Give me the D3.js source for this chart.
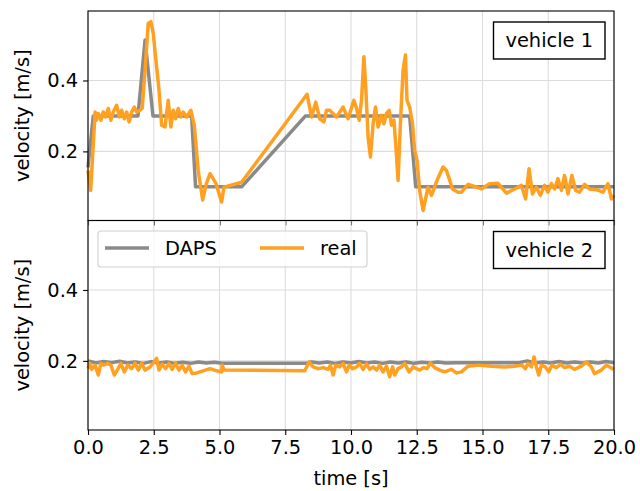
<!DOCTYPE html>
<html>
<head>
<meta charset="utf-8">
<script src="https://cdn.jsdelivr.net/npm/d3@7"></script>
<style>
    body { margin: 0; background: #fff; }
    svg { display: block; font-family: 'DejaVu Sans', sans-serif; }
</style>
</head>
<body>
<svg width="640" height="491"></svg>
<script>
// time ticks and velocity ticks
const timeTicks = [0, 2.5, 5, 7.5, 10, 12.5, 15, 17.5, 20]
const velTicks = [0.2, 0.4]
const seriesNames = ['DAPS', 'real']
const panelLabels = ['vehicle 1', 'vehicle 2']

// vehicle 1, [time, velocity]
const v1Daps = [
    [0, 0.155], [0.2, 0.3], [1.9, 0.3], [2.17, 0.514], [2.47, 0.3], [3.94, 0.3],
    [4.09, 0.1], [5.84, 0.1], [8.27, 0.3], [12.23, 0.3], [12.46, 0.1], [20, 0.1]
]

const v1Real = [
    [0, 0.146], [0.1, 0.09], [0.16, 0.166], [0.27, 0.311], [0.32, 0.288], [0.39, 0.307],
    [0.49, 0.288], [0.58, 0.311], [0.67, 0.297], [0.77, 0.321], [0.87, 0.288], [0.96, 0.311],
    [1.09, 0.33], [1.19, 0.297], [1.28, 0.316], [1.38, 0.292], [1.47, 0.311], [1.56, 0.283],
    [1.66, 0.311], [1.76, 0.325], [1.85, 0.311], [1.98, 0.316], [2.06, 0.321], [2.17, 0.429],
    [2.29, 0.561], [2.39, 0.566], [2.48, 0.533], [2.61, 0.438], [2.7, 0.373], [2.8, 0.274],
    [2.93, 0.269], [3.05, 0.344], [3.15, 0.269], [3.24, 0.316], [3.33, 0.292], [3.43, 0.321],
    [3.53, 0.297], [3.62, 0.311], [3.75, 0.297], [3.91, 0.316], [4.04, 0.274], [4.19, 0.146],
    [4.36, 0.063], [4.5, 0.109], [4.64, 0.137], [4.87, 0.109], [5.08, 0.057], [5.17, 0.099],
    [5.84, 0.113], [8.33, 0.361], [8.5, 0.297], [8.66, 0.339], [8.81, 0.292], [8.97, 0.283],
    [9.07, 0.316], [9.19, 0.316], [9.45, 0.297], [9.7, 0.325], [9.89, 0.292], [10.11, 0.344],
    [10.21, 0.321], [10.31, 0.288], [10.4, 0.344], [10.49, 0.467], [10.56, 0.382], [10.65, 0.24],
    [10.74, 0.184], [10.84, 0.278], [10.93, 0.325], [11.03, 0.269], [11.16, 0.302], [11.25, 0.278],
    [11.35, 0.307], [11.45, 0.316], [11.54, 0.274], [11.63, 0.288], [11.7, 0.222], [11.79, 0.118],
    [11.89, 0.297], [11.98, 0.429], [12.07, 0.472], [12.13, 0.344], [12.23, 0.325], [12.34, 0.278],
    [12.42, 0.203], [12.51, 0.175], [12.61, 0.09], [12.74, 0.033], [12.93, 0.099], [13.06, 0.076],
    [13.27, 0.118], [13.5, 0.156], [13.63, 0.146], [13.86, 0.094], [14.07, 0.085], [14.2, 0.085],
    [14.45, 0.107], [14.7, 0.101], [14.96, 0.094], [15.27, 0.109], [15.59, 0.11], [15.91, 0.082],
    [16.22, 0.094], [16.48, 0.104], [16.64, 0.066], [16.77, 0.151], [16.9, 0.08], [17.05, 0.099],
    [17.2, 0.076], [17.36, 0.104], [17.49, 0.085], [17.62, 0.109], [17.74, 0.094], [17.87, 0.123],
    [18, 0.09], [18.12, 0.132], [18.25, 0.08], [18.4, 0.132], [18.54, 0.09], [18.69, 0.085],
    [18.88, 0.107], [19.07, 0.094], [19.33, 0.092], [19.58, 0.085], [19.77, 0.109], [19.9, 0.066],
    [20, 0.076]
]

// vehicle 2, [time, velocity]
const v2Daps = [
    [0, 0.2], [0.3, 0.194], [0.6, 0.198], [0.9, 0.195], [1.2, 0.199], [1.5, 0.194],
    [1.8, 0.197], [2.1, 0.193], [2.4, 0.198], [2.7, 0.194], [3.0, 0.197], [3.3, 0.193],
    [3.6, 0.196], [3.9, 0.193], [4.2, 0.197], [4.5, 0.194], [4.8, 0.196], [5.1, 0.193],
    [8.3, 0.193], [8.5, 0.197], [8.8, 0.194], [9.1, 0.197], [9.4, 0.193], [9.7, 0.197],
    [10.0, 0.194], [10.3, 0.198], [10.6, 0.194], [10.9, 0.197], [11.2, 0.193], [11.5, 0.197],
    [11.8, 0.194], [12.1, 0.197], [12.4, 0.193], [12.7, 0.196], [13.0, 0.194], [13.3, 0.197],
    [13.6, 0.194], [14.0, 0.195], [16.4, 0.195], [16.7, 0.2], [17.0, 0.194], [17.3, 0.197],
    [17.6, 0.194], [17.9, 0.198], [18.2, 0.194], [18.5, 0.197], [18.8, 0.194], [19.1, 0.197],
    [19.4, 0.194], [19.7, 0.198], [20, 0.195]
]

const v2Real = [
    [0, 0.178], [0.08, 0.193], [0.14, 0.176], [0.27, 0.188], [0.39, 0.16], [0.49, 0.193],
    [0.58, 0.188], [0.75, 0.193], [0.87, 0.188], [1.0, 0.16], [1.13, 0.176], [1.25, 0.193],
    [1.38, 0.169], [1.51, 0.188], [1.66, 0.178], [1.79, 0.194], [1.91, 0.174], [2.04, 0.193],
    [2.17, 0.174], [2.36, 0.183], [2.48, 0.194], [2.61, 0.207], [2.7, 0.174], [2.82, 0.191],
    [2.95, 0.178], [3.08, 0.193], [3.2, 0.176], [3.33, 0.193], [3.46, 0.174], [3.58, 0.188],
    [3.71, 0.169], [3.84, 0.185], [3.96, 0.164], [4.13, 0.166], [4.38, 0.172], [4.64, 0.178],
    [4.89, 0.172], [5.08, 0.169], [5.1, 0.188], [5.18, 0.174], [8.24, 0.172], [8.41, 0.197],
    [8.56, 0.183], [8.75, 0.178], [8.94, 0.181], [9.13, 0.176], [9.22, 0.188], [9.32, 0.16],
    [9.42, 0.188], [9.57, 0.183], [9.7, 0.193], [9.83, 0.169], [9.93, 0.188], [10.06, 0.178],
    [10.21, 0.183], [10.33, 0.193], [10.46, 0.176], [10.59, 0.191], [10.71, 0.176], [10.84, 0.183],
    [10.97, 0.174], [11.09, 0.188], [11.22, 0.169], [11.35, 0.185], [11.47, 0.155], [11.58, 0.183],
    [11.66, 0.16], [11.79, 0.178], [11.92, 0.183], [12.04, 0.193], [12.21, 0.169], [12.36, 0.183],
    [12.49, 0.178], [12.61, 0.174], [12.77, 0.181], [12.89, 0.178], [13.02, 0.194], [13.18, 0.181],
    [13.37, 0.174], [13.56, 0.169], [13.82, 0.176], [14.0, 0.166], [14.2, 0.169], [14.45, 0.185],
    [14.83, 0.188], [15.34, 0.185], [15.84, 0.183], [16.22, 0.185], [16.5, 0.188], [16.63, 0.178],
    [16.73, 0.193], [16.86, 0.183], [16.96, 0.211], [17.05, 0.183], [17.14, 0.16], [17.24, 0.188],
    [17.39, 0.183], [17.52, 0.169], [17.64, 0.188], [17.81, 0.181], [17.97, 0.191], [18.12, 0.181],
    [18.31, 0.185], [18.5, 0.176], [18.76, 0.185], [18.95, 0.197], [19.14, 0.183], [19.26, 0.164],
    [19.52, 0.174], [19.71, 0.188], [19.83, 0.183], [20, 0.176]
]

const vehicles = [[v1Daps, v1Real], [v2Daps, v2Real]]

const colors = ['#8a8a8a', '#ffa020']
const fontSize = 19.4

let svg = d3.select('svg')

const left = 88, right = 614
const panelTops = [11, 220.5]
const panelH = 209.5

let x = d3.scaleLinear().domain([0, 20]).range([left, right])

let line = d3.line()
    .x(d => x(d[0]))

vehicles.forEach((series, i) => {
    let top = panelTops[i]
    let y = d3.scaleLinear().domain([0.005, 0.596]).range([top + panelH, top])
    line.y(d => y(d[1]))

    let g = svg.append('g')

    // grid
    g.append('g')
        .selectAll('line')
        .data(timeTicks)
        .enter().append('line')
        .attr('x1', d => x(d)).attr('x2', d => x(d))
        .attr('y1', top).attr('y2', top + panelH)
        .attr('stroke', '#dcdcdc').attr('stroke-width', 1.1)
    g.append('g')
        .selectAll('line')
        .data(velTicks)
        .enter().append('line')
        .attr('x1', left).attr('x2', right)
        .attr('y1', d => y(d)).attr('y2', d => y(d))
        .attr('stroke', '#dcdcdc').attr('stroke-width', 1.1)

    // series
    series.forEach((s, j) => {
        g.append('path')
            .datum(s)
            .attr('d', line)
            .attr('fill', 'none')
            .attr('stroke', colors[j])
            .attr('stroke-width', 3.5)
            .attr('stroke-linejoin', 'round')
            .attr('stroke-linecap', 'butt')
    })

    // axes
    let yAxis = g.append('g')
        .attr('transform', `translate(${left},0)`)
        .call(d3.axisLeft(y).tickValues(velTicks).tickFormat(d3.format('.1f')).tickSizeOuter(0).tickSize(4.9).tickPadding(4.9))
    let xAxis = g.append('g')
        .attr('transform', `translate(0,${top + panelH})`)
        .call(d3.axisBottom(x).tickValues(timeTicks).tickFormat(d3.format('.1f')).tickSizeOuter(0).tickSize(4.9).tickPadding(4.9))
    if (i === 0) xAxis.selectAll('text').remove()

    svg.selectAll('.domain').remove()
    g.selectAll('.tick line').attr('stroke', '#000').attr('stroke-width', 1.1)
    g.selectAll('.tick text')
        .attr('font-family', 'DejaVu Sans')
        .attr('font-size', fontSize)
        .attr('fill', '#000')

    g.append('rect')
        .attr('x', left).attr('y', top)
        .attr('width', right - left).attr('height', panelH)
        .attr('fill', 'none')
        .attr('stroke', '#000')
        .attr('stroke-width', 1.1)

    // y label
    g.append('text')
        .attr('transform', `translate(29,${top + panelH / 2}) rotate(-90)`)
        .attr('text-anchor', 'middle')
        .attr('font-size', fontSize)
        .text('velocity [m/s]')

    // panel label box
    let bx = 493.5, by = top + 11, bw = 111.5, bh = 37
    g.append('rect')
        .attr('x', bx).attr('y', by)
        .attr('width', bw).attr('height', bh)
        .attr('fill', '#fff')
        .attr('stroke', '#000')
        .attr('stroke-width', 1.4)
    g.append('text')
        .attr('x', bx + bw / 2)
        .attr('y', by + 25)
        .attr('text-anchor', 'middle')
        .attr('font-size', fontSize)
        .text(panelLabels[i])
})

// x label
svg.append('text')
    .attr('x', (left + right) / 2)
    .attr('y', 485)
    .attr('text-anchor', 'middle')
    .attr('font-size', fontSize)
    .text('time [s]')

// legend
let legend = svg.append('g')
legend.append('rect')
    .attr('x', 98).attr('y', 231)
    .attr('width', 269).attr('height', 36)
    .attr('rx', 3)
    .attr('fill', '#fff').attr('fill-opacity', 0.8)
    .attr('stroke', '#d0d0d0').attr('stroke-width', 1.1)

const legendX = [105, 260]
seriesNames.forEach((name, j) => {
    legend.append('line')
        .attr('x1', legendX[j]).attr('x2', legendX[j] + 44)
        .attr('y1', 248).attr('y2', 248)
        .attr('stroke', colors[j]).attr('stroke-width', 3.5)
    legend.append('text')
        .attr('x', legendX[j] + 60)
        .attr('y', 255)
        .attr('font-size', fontSize)
        .text(name)
})
</script>
</body>
</html>
